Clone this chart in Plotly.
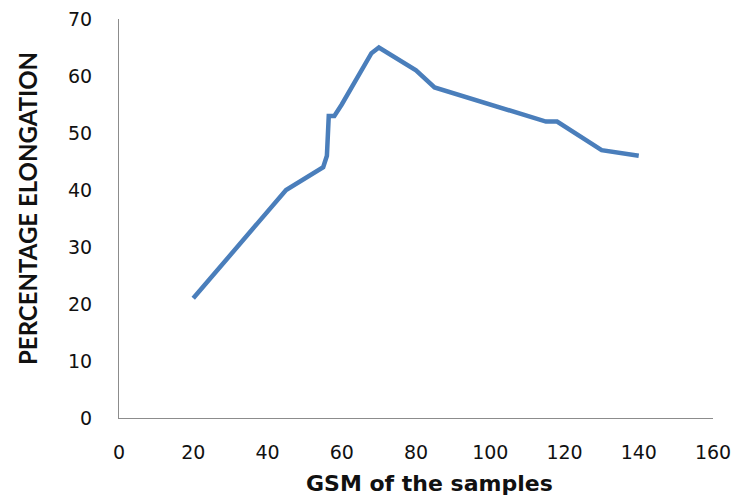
import plotly.graph_objects as go

# GSM values and measured elongation (%)
gsm = [20, 45, 55, 56, 56.5, 58, 60, 68, 70, 80, 85, 115, 118, 130, 140]
elongation = [21, 40, 44, 46, 53, 53, 55, 64, 65, 61, 58, 52, 52, 47, 46]

x_ticks = [0, 20, 40, 60, 80, 100, 120, 140, 160]
y_ticks = [0, 10, 20, 30, 40, 50, 60, 70]

TICK_FONT = dict(family="DejaVu Sans", size=19, color='#111111')

fig = go.Figure()

fig.add_trace(go.Scatter(
    x=gsm,
    y=elongation,
    mode='lines',
    line=dict(color='#4A7EBB', width=4.5),
    showlegend=False
))

fig.update_xaxes(
    range=[0, 160],
    tickvals=x_ticks,
    showgrid=False,
    zeroline=False,
    showline=True,
    linecolor='#8c8c8c',
    linewidth=1,
    ticks='',
    automargin=False,
    ticklabeloverflow='allow',
    ticklabelstandoff=17,
    tickfont=TICK_FONT,
)

fig.update_yaxes(
    range=[0, 70],
    tickvals=y_ticks,
    showgrid=False,
    zeroline=False,
    showline=True,
    linecolor='#8c8c8c',
    linewidth=1,
    ticks='',
    automargin=False,
    ticklabeloverflow='allow',
    ticklabelstandoff=22,
    tickfont=TICK_FONT,
)

# axis titles placed as annotations to match reference positions
fig.add_annotation(
    text="GSM of the samples",
    xref='paper', yref='paper',
    x=(429 - 119) / 594, y=(418 - 484) / 399,
    showarrow=False,
    font=dict(family="DejaVu Sans", size=22, color='#111111', weight='bold'),
    xanchor='center', yanchor='middle'
)
fig.add_annotation(
    text="PERCENTAGE ELONGATION",
    xref='paper', yref='paper',
    x=(27 - 119) / 594, y=(418 - 209) / 399,
    textangle=-90,
    showarrow=False,
    font=dict(family="Lato", size=24, color='#111111', weight='bold'),
    xanchor='center', yanchor='middle'
)

# page body has an 8px margin, so the figure is sized to fit the window
fig.update_layout(
    width=735,
    height=489,
    margin=dict(l=111, r=30, t=11, b=79),
    plot_bgcolor='white',
    paper_bgcolor='white',
)

fig.write_html("out.html")
